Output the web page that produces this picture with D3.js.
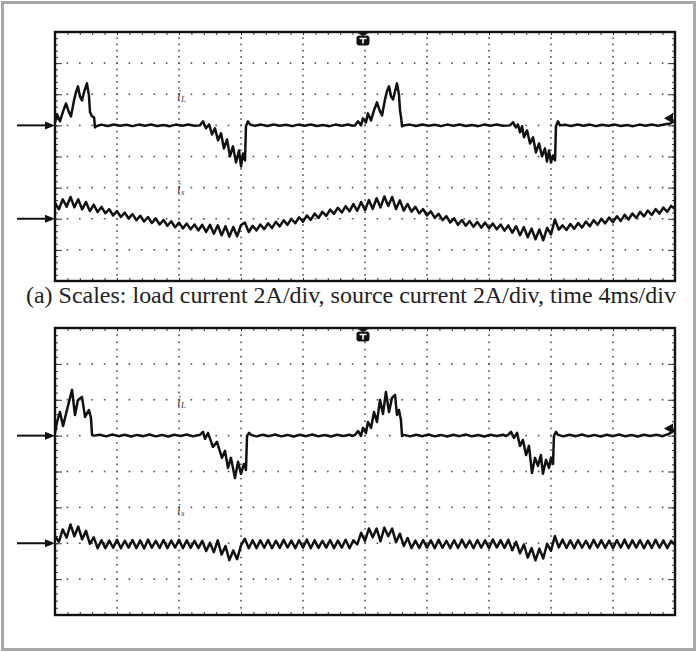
<!DOCTYPE html>
<html>
<head>
<meta charset="utf-8">
<script src="https://cdn.jsdelivr.net/npm/d3@7"></script>
<style>
  html, body { margin: 0; padding: 0; background: #fff; }
  svg { display: block; }
</style>
</head>
<body>
<svg id="chart" width="697" height="652"></svg>
<script>
// Scope settings: 10 x 4 ms horizontally, 8 x 2 A vertically
const timeDivs = 10, msPerDiv = 4;
const ampDivs = 8, ampPerDiv = 2;
const sampleStepMs = 0.25;

// Channel zero levels, in divisions from the screen centre: load current, source current
const channelOffsets = [1, -2];
const channelNames = ["i", "i"];
const channelSubs = ["L", "s"];
const captionText = "(a) Scales: load current 2A/div, source current 2A/div, time 4ms/div";

// Load current, upper capture: [time ms, current A]
const loadCurrentA = [
  [0,0.19],[0.13,0.71],[0.32,0.26],[0.52,0.90],[0.71,1.41],[0.90,0.84],[1.03,0.58],[1.23,1.61],[1.35,2.12],[1.48,2.51],
  [1.61,1.86],[1.74,1.61],[1.87,2.12],[2.06,2.70],[2.19,1.93],[2.26,0.84],[2.39,0.58],[2.52,0.51],[2.58,-0.13],[2.65,-0.06],
  [3.0,0.05],[3.4,-0.04],[3.8,0.06],[4.2,-0.03],[4.6,0.04],[5.0,-0.05],[5.4,0.05],[5.8,-0.02],[6.2,0.06],[6.6,-0.04],
  [7.0,0.03],[7.4,-0.05],[7.8,0.05],[8.2,-0.03],[8.6,0.06],[9.0,-0.02],
  [9.35,0],[9.55,0.26],[9.74,-0.19],[9.94,0.06],[10.13,-0.58],[10.32,-0.19],[10.52,-0.96],[10.71,-0.51],[10.90,-1.48],[11.10,-0.90],
  [11.29,-1.99],[11.48,-1.35],[11.68,-2.38],[11.87,-1.61],[12.00,-2.64],[12.13,-1.80],[12.26,-2.25],[12.32,-0.06],[12.45,0.26],[12.58,0.06],
  [12.9,-0.03],[13.3,0.05],[13.7,-0.04],[14.1,0.06],[14.5,-0.03],[14.9,0.04],[15.3,-0.05],[15.7,0.05],[16.1,-0.02],[16.5,0.06],
  [16.9,-0.04],[17.3,0.03],[17.7,-0.05],[18.1,0.05],[18.5,-0.03],[18.9,0.06],[19.2,-0.02],
  [19.35,0],[19.55,0.26],[19.74,0],[19.87,0.45],[20.06,0.19],[20.19,0.77],[20.39,0.32],[20.58,0.96],[20.77,1.48],[20.97,0.90],
  [21.10,0.64],[21.29,1.67],[21.42,2.19],[21.55,2.51],[21.68,1.86],[21.81,1.67],[21.94,2.19],[22.06,2.70],[22.19,1.99],[22.26,0.96],
  [22.32,0.58],[22.39,-0.06],[22.52,0],
  [22.9,0.05],[23.3,-0.04],[23.7,0.06],[24.1,-0.03],[24.5,0.04],[24.9,-0.05],[25.3,0.05],[25.7,-0.02],[26.1,0.06],[26.5,-0.04],
  [26.9,0.03],[27.3,-0.05],[27.7,0.05],[28.1,-0.03],[28.5,0.06],[28.9,-0.02],
  [29.35,0],[29.55,0.19],[29.74,-0.13],[29.87,0.06],[30.0,-0.45],[30.13,-0.06],[30.26,-0.77],[30.45,-0.32],[30.65,-1.16],[30.84,-0.77],
  [31.03,-1.74],[31.23,-1.16],[31.42,-1.99],[31.61,-1.48],[31.74,-2.32],[31.87,-1.61],[32.0,-2.38],[32.13,-1.93],[32.26,-2.25],[32.32,-0.06],
  [32.45,0.26],[32.58,0],
  [32.9,0.04],[33.3,-0.04],[33.7,0.06],[34.1,-0.03],[34.5,0.05],[34.9,-0.05],[35.3,0.04],[35.7,-0.02],[36.1,0.06],[36.5,-0.04],
  [36.9,0.03],[37.3,-0.05],[37.7,0.05],[38.1,-0.03],[38.5,0.06],[38.9,-0.02],[39.3,0.05],[39.7,0.12],[40,0.30]
];

// Source current, upper capture: samples every 0.25 ms (A)
const sourceCurrentA = [
  1.02,0.61,1.25,0.77, 1.40,0.74,1.25,0.60, 1.08,0.49,0.90,0.43, 0.76,0.35,0.62,0.21,
  0.49,0.11,0.39,0.02, 0.30,-0.09,0.19,-0.18, 0.11,-0.27,0.02,-0.37, -0.08,-0.45,-0.16,-0.55,
  -0.25,-0.62,-0.31,-0.68, -0.37,-0.75,-0.39,-0.84, -0.39,-0.96,-0.42,-1.06, -0.48,-1.15,-0.53,-1.13,
  -0.40,-0.25,-0.85,-0.45, -0.75,-0.37,-0.67,-0.29, -0.59,-0.20,-0.49,-0.10, -0.39,0.00,-0.29,0.10,
  -0.19,0.21,-0.07,0.33, 0.05,0.45,0.18,0.59, 0.31,0.71,0.40,0.81, 0.48,0.94,0.51,1.08,
  0.55,1.20,0.63,1.32, 0.73,1.43,0.82,1.40, 0.63,1.18,0.52,0.95, 0.46,0.76,0.35,0.62,
  0.21,0.47,0.06,0.32, -0.09,0.17,-0.24,0.02, -0.39,-0.08,-0.45,-0.15, -0.52,-0.20,-0.57,-0.25,
  -0.62,-0.31,-0.68,-0.37, -0.76,-0.43,-0.90,-0.48, -1.06,-0.54,-1.19,-0.63, -1.32,-0.69,-1.38,-0.58,
  -1.00,-0.05,-0.70,-0.43, -0.72,-0.34,-0.65,-0.27, -0.57,-0.18,-0.48,-0.09, -0.39,-0.01,-0.30,0.08,
  -0.22,0.16,-0.14,0.25, -0.05,0.34,0.05,0.44, 0.15,0.53,0.24,0.62, 0.33,0.72,0.44,0.83,
  0.62
];

// Load current, lower capture: [time ms, current A]
const loadCurrentB = [
  [0,0.15],[0.13,0.76],[0.32,1.32],[0.52,0.54],[0.77,1.43],[1.10,2.55],[1.29,1.15],[1.48,1.99],[1.74,2.16],[1.94,1.04],
  [2.19,1.43],[2.32,0.99],[2.39,0.04],[2.52,0],
  [2.9,0.05],[3.3,-0.04],[3.7,0.06],[4.1,-0.03],[4.5,0.05],[4.9,-0.05],[5.3,0.04],[5.7,-0.03],[6.1,0.06],[6.5,-0.04],
  [6.9,0.04],[7.3,-0.05],[7.7,0.05],[8.1,-0.02],[8.5,0.06],[8.9,-0.04],[9.2,0.02],
  [9.35,0.04],[9.55,0.21],[9.68,-0.18],[9.87,0.15],[10.19,-0.63],[10.45,-0.35],[10.77,-1.24],[10.97,-0.85],[11.16,-1.80],[11.35,-1.24],
  [11.61,-2.36],[11.81,-1.46],[12.0,-2.13],[12.19,-1.58],[12.32,-1.91],[12.39,-0.02],[12.52,0.15],[12.65,0.04],
  [13.0,-0.04],[13.4,0.05],[13.8,-0.03],[14.2,0.06],[14.6,-0.04],[15.0,0.04],[15.4,-0.05],[15.8,0.05],[16.2,-0.03],[16.6,0.06],
  [17.0,-0.04],[17.4,0.03],[17.8,-0.05],[18.2,0.05],[18.6,-0.02],[19.0,0.05],[19.2,-0.02],
  [19.35,0.04],[19.55,0.26],[19.74,-0.02],[19.87,0.43],[20.06,0.15],[20.19,0.76],[20.39,0.43],[20.58,1.32],[20.77,0.76],[20.97,1.99],
  [21.16,1.21],[21.35,2.43],[21.55,1.32],[21.74,2.10],[21.94,2.27],[22.06,1.15],[22.19,1.43],[22.32,0.87],[22.39,-0.02],[22.52,0.04],
  [22.9,-0.04],[23.3,0.05],[23.7,-0.03],[24.1,0.06],[24.5,-0.04],[24.9,0.04],[25.3,-0.05],[25.7,0.05],[26.1,-0.03],[26.5,0.06],
  [26.9,-0.04],[27.3,0.03],[27.7,-0.05],[28.1,0.05],[28.5,-0.02],[28.9,0.05],[29.1,-0.02],
  [29.23,0.04],[29.42,0.21],[29.61,-0.13],[29.81,0.15],[30.0,-0.57],[30.19,-0.24],[30.39,-1.08],[30.58,-0.57],[30.77,-2.08],[30.97,-1.24],
  [31.16,-1.69],[31.35,-1.08],[31.48,-2.13],[31.68,-1.35],[31.87,-1.80],[32.0,-1.24],[32.13,-1.58],[32.19,-0.02],[32.32,0.21],[32.45,0.04],
  [32.8,-0.04],[33.2,0.05],[33.6,-0.03],[34.0,0.06],[34.4,-0.04],[34.8,0.04],[35.2,-0.05],[35.6,0.05],[36.0,-0.03],[36.4,0.06],
  [36.8,-0.04],[37.2,0.03],[37.6,-0.05],[38.0,0.05],[38.4,-0.02],[38.8,0.05],[39.2,-0.03],[39.6,0.10],[40,0.32]
];

// Source current, lower capture: samples every 0.25 ms (A)
const sourceCurrentB = [
  0.39,0.08,0.77,0.31, 1.05,0.39,0.93,0.22, 0.69,-0.03,0.33,-0.27,
  0.17,-0.27,0.15,-0.25,0.19,-0.28,0.14,-0.24,0.18,-0.27,0.16,-0.29,0.20,-0.25,0.13,-0.26,0.18,-0.27,0.15,-0.24,0.19,-0.28,0.16,-0.26,0.14,-0.27,
  0.13,-0.43,0.02,-0.50, 0.16,-0.63,-0.16,-0.94, -0.40,-0.89,-0.12,0.25, -0.28,0.17,
  -0.27,0.16,-0.25,0.18,-0.28,0.14,-0.26,0.19,-0.24,0.15,-0.27,0.17,-0.25,0.20,-0.28,0.16,-0.26,0.14,-0.24,0.18,-0.27,0.15,-0.25,0.19,-0.28,0.16,
  -0.06,0.58,0.13,0.82, 0.33,0.82,0.11,0.87, 0.39,0.82,0.06,0.53, -0.15,0.29,
  -0.27,0.15,-0.26,0.18,-0.24,0.16,-0.28,0.19,-0.25,0.14,-0.27,0.17,-0.26,0.20,-0.24,0.15,-0.28,0.18,-0.25,0.16,-0.27,0.21,-0.24,0.17,-0.26,0.19,
  -0.39,0.08,-0.56,-0.07, -0.80,-0.27,-0.95,-0.30, -0.85,-0.03,-0.42,0.40, -0.23,0.20,
  -0.26,0.16,-0.27,0.18,-0.25,0.14,-0.28,0.19,-0.24,0.17,-0.26,0.15,-0.28,0.18,-0.25,0.20,-0.27,0.16,-0.24,0.17,-0.28,0.15,-0.26,0.19,-0.25,0.16,-0.27,0.14,
  -0.09
];

// Trigger level, in A on the load-current channel
const triggerLevels = [0.45, 0.4];

const W = 697, H = 652;
const svg = d3.select("#chart");

// outer frame
svg.append("rect")
  .attr("x", 2.5).attr("y", 2.5).attr("width", W - 5).attr("height", H - 5)
  .attr("fill", "#fff").attr("stroke", "#a8a8a8").attr("stroke-width", 3);

const panels = [
  { top: 32, bottom: 281, load: loadCurrentA, source: sourceCurrentA, trig: triggerLevels[0] },
  { top: 328, bottom: 615, load: loadCurrentB, source: sourceCurrentB, trig: triggerLevels[1] }
];
const left = 55, right = 675;
const tMax = timeDivs * msPerDiv;
const aMax = ampDivs / 2 * ampPerDiv;

const x = d3.scaleLinear().domain([0, tMax]).range([left, right]);

panels.forEach(p => {
  const y = d3.scaleLinear().domain([-aMax, aMax]).range([p.bottom, p.top]);
  const g = svg.append("g");

  const minorT = d3.range(0, tMax + 1e-6, msPerDiv / 5);
  const minorA = d3.range(-aMax, aMax + 1e-6, ampPerDiv / 5);
  const majorT = d3.range(msPerDiv, tMax - 1e-6, msPerDiv);
  const majorA = d3.range(-aMax + ampPerDiv, aMax - 1e-6, ampPerDiv);

  // graticule dots
  const dots = [];
  majorT.forEach(t => minorA.forEach(a => dots.push([x(t), y(a)])));
  majorA.forEach(a => minorT.forEach(t => dots.push([x(t), y(a)])));
  g.append("g").selectAll("rect").data(dots).join("rect")
    .attr("x", d => d[0] - 0.8).attr("y", d => d[1] - 0.8)
    .attr("width", 1.6).attr("height", 1.6).attr("fill", "#505050");

  // inward ticks on the four edges
  const edge = (axis, tx, ty) => g.append("g")
    .attr("transform", `translate(${tx},${ty})`)
    .call(axis.tickFormat(""))
    .call(s => {
      s.select(".domain").remove();
      s.selectAll("line").attr("stroke", "#333").attr("stroke-width", 1);
    });
  edge(d3.axisBottom(x).tickValues(minorT).tickSize(3), 0, p.top);
  edge(d3.axisTop(x).tickValues(minorT).tickSize(3), 0, p.bottom);
  edge(d3.axisRight(y).tickValues(minorA).tickSize(3), left, 0);
  edge(d3.axisLeft(y).tickValues(minorA).tickSize(3), right, 0);
  edge(d3.axisRight(y).tickValues(majorA).tickSize(7), left, 0);
  edge(d3.axisLeft(y).tickValues(majorA).tickSize(7), right, 0);

  // screen border
  g.append("rect")
    .attr("x", left).attr("y", p.top)
    .attr("width", right - left).attr("height", p.bottom - p.top)
    .attr("fill", "none").attr("stroke", "#111").attr("stroke-width", 2.4);

  // traces
  const traces = [
    p.load,
    p.source.map((v, i) => [i * sampleStepMs, v])
  ];
  traces.forEach((data, ci) => {
    const off = channelOffsets[ci] * ampPerDiv;
    const line = d3.line()
      .x(d => x(d[0]))
      .y(d => y(d[1] + off));
    g.append("path").datum(data)
      .attr("d", line)
      .attr("fill", "none")
      .attr("stroke", "#111")
      .attr("stroke-width", 2.5)
      .attr("stroke-linejoin", "round");

    // channel zero marker arrow
    const yz = y(off);
    g.append("line")
      .attr("x1", 17).attr("x2", left - 6)
      .attr("y1", yz).attr("y2", yz)
      .attr("stroke", "#111").attr("stroke-width", 2);
    g.append("path")
      .attr("d", `M${left},${yz} L${left - 10},${yz - 4} L${left - 10},${yz + 4} Z`)
      .attr("fill", "#111");

    // channel label
    const lbl = g.append("text")
      .attr("x", x(2 * msPerDiv) - 2)
      .attr("y", y(off + 0.82 * ampPerDiv))
      .attr("font-family", "'Liberation Serif', 'DejaVu Serif', serif")
      .attr("font-style", "italic")
      .attr("font-size", 14)
      .attr("fill", "#444");
    lbl.append("tspan").text(channelNames[ci]);
    lbl.append("tspan").attr("dy", 2).attr("font-size", 9).text(channelSubs[ci]);
  });

  // trigger position marker at the top centre
  const cx = x(tMax / 2) - 2;
  g.append("path")
    .attr("d", `M${cx - 7},${p.top} L${cx + 7},${p.top} L${cx},${p.top + 4} Z`)
    .attr("fill", "#111");
  g.append("rect")
    .attr("x", cx - 6.5).attr("y", p.top + 3.5)
    .attr("width", 13).attr("height", 10).attr("rx", 3)
    .attr("fill", "#111");
  g.append("path")
    .attr("d", `M${cx - 3.5},${p.top + 6.5} H${cx + 3.5} M${cx},${p.top + 6.5} V${p.top + 11.5}`)
    .attr("stroke", "#fff").attr("stroke-width", 1.6).attr("fill", "none");

  // trigger level marker at the right edge
  const yt = y(p.trig + channelOffsets[0] * ampPerDiv);
  g.append("path")
    .attr("d", `M${right - 11},${yt} L${right - 2},${yt - 5} L${right - 2},${yt + 5} Z`)
    .attr("fill", "#111");
});

// caption between the two captures
const cap = svg.append("text")
  .attr("x", 26).attr("y", 303)
  .attr("font-family", "'Liberation Serif', 'Times New Roman', serif")
  .attr("font-size", 21)
  .attr("fill", "#222")
  .text(captionText);
const capLen = cap.node().getComputedTextLength();
cap.attr("font-size", 21 * 650 / capLen);
</script>
</body>
</html>
